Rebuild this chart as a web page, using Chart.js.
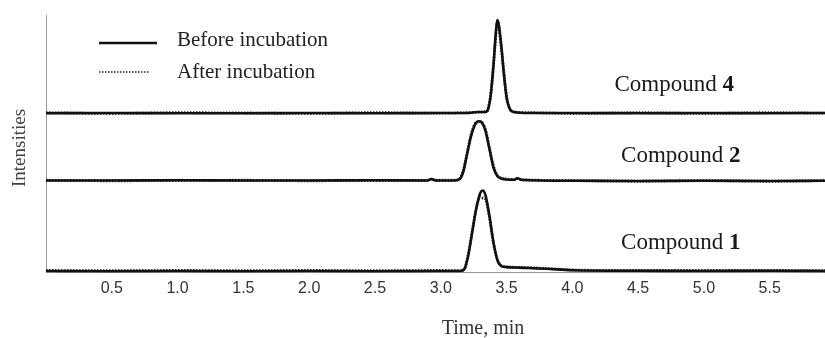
<!DOCTYPE html>
<html lang="en">
<head>
  <meta charset="UTF-8">
  <title>Chromatograms before and after incubation</title>
  <script src="https://cdn.jsdelivr.net/npm/chart.js"></script>
  <style>
    html, body { margin: 0; padding: 0; background: #fff; }
    #chart-container { width: 825px; height: 338px; position: relative; }
  </style>
</head>
<body>
<div id="chart-container">
  <canvas id="chrom"></canvas>
</div>

<script>
  // Data (time in min, intensity in arbitrary units, traces stacked)
  const tickValues = [0.5, 1.0, 1.5, 2.0, 2.5, 3.0, 3.5, 4.0, 4.5, 5.0, 5.5];
  const legendLabels = ['Before incubation', 'After incubation'];
  const compoundNames = ['Compound 4', 'Compound 2', 'Compound 1'];

  const c4Time   = [0, 0.5, 1.0, 1.5, 2.0, 2.5, 3.0, 3.2, 3.28, 3.34, 3.36, 3.38, 3.40, 3.42, 3.43, 3.44, 3.46, 3.48, 3.50, 3.52, 3.54, 3.58, 3.7, 4.0, 4.5, 5.0, 5.5, 5.92];
  const c4Before = [61.9, 62.0, 61.9, 61.9, 62.0, 61.9, 62.0, 62.0, 62.4, 62.4, 63.5, 69, 80, 94, 98, 96.5, 88, 77, 68, 64, 62.6, 62.2, 62.0, 62.0, 61.9, 62.0, 61.9, 62.0];
  const c4After  = [62.1, 61.8, 62.1, 62.0, 61.8, 62.1, 61.9, 62.1, 62.3, 62.5, 63.8, 69.5, 80.5, 93, 97.5, 96, 87.5, 77.5, 68.5, 64.3, 62.8, 62.3, 62.1, 61.8, 62.1, 61.8, 62.1, 61.9];

  const c2Time   = [0, 0.5, 1.0, 1.5, 2.0, 2.5, 2.9, 2.93, 2.96, 3.10, 3.14, 3.17, 3.20, 3.23, 3.26, 3.29, 3.31, 3.34, 3.37, 3.40, 3.43, 3.46, 3.50, 3.56, 3.58, 3.62, 4.0, 4.5, 5.0, 5.5, 5.92];
  const c2Before = [35.8, 35.8, 35.9, 35.8, 35.8, 35.9, 35.8, 36.4, 35.8, 35.8, 36.2, 39, 46, 53, 57.5, 58.8, 58.5, 55, 48, 41, 37.5, 36.6, 36.2, 36.1, 36.7, 36.0, 35.7, 35.6, 35.7, 35.6, 35.7];
  const c2After  = [35.9, 35.7, 35.8, 35.9, 35.7, 35.8, 35.9, 36.3, 35.9, 35.9, 36.4, 39.5, 46.5, 53.5, 57.8, 58.6, 58.2, 55.5, 48.5, 41.5, 37.8, 36.8, 36.4, 36.2, 36.6, 36.1, 35.8, 35.5, 35.8, 35.5, 35.8];

  const c1Time   = [0, 0.5, 1.0, 1.5, 2.0, 2.5, 3.0, 3.15, 3.18, 3.21, 3.24, 3.27, 3.30, 3.32, 3.34, 3.37, 3.40, 3.43, 3.46, 3.50, 3.60, 3.80, 4.0, 4.5, 5.0, 5.5, 5.92];
  const c1Before = [0.7, 0.6, 0.7, 0.6, 0.7, 0.6, 0.7, 0.7, 1.5, 7, 16, 25, 31, 31.9, 30, 22, 12, 5, 2.6, 2.2, 2.0, 1.6, 1.0, 0.8, 0.7, 0.8, 0.7];
  const c1After  = [0.9, 0.8, 0.9, 0.8, 0.9, 0.8, 0.9, 0.8, 1.6, 7.5, 16.5, 25, 29.5, 29, 28.5, 21.5, 11.5, 5.2, 2.8, 2.3, 2.1, 1.7, 1.1, 0.9, 0.9, 0.9, 0.8];

  const toPoints = (xs, ys) => xs.map((x, i) => ({ x: x, y: ys[i] }));

  const beforeStyle = { borderColor: '#111', borderWidth: 2.6 };
  const afterStyle = { borderColor: '#2a2a2a', borderWidth: 2.8, borderDash: [1.5, 1.5] };

  const traces = [
    [compoundNames[0], c4Time, c4Before, c4After],
    [compoundNames[1], c2Time, c2Before, c2After],
    [compoundNames[2], c1Time, c1Before, c1After]
  ];

  const datasets = [];
  traces.forEach(([name, t, before, after]) => {
    datasets.push(Object.assign({ label: name + ' - ' + legendLabels[0], data: toPoints(t, before) }, beforeStyle));
    datasets.push(Object.assign({ label: name + ' - ' + legendLabels[1], data: toPoints(t, after) }, afterStyle));
  });

  const serif = '"Liberation Serif", "Times New Roman", serif';

  // legend, compound names and axis titles drawn on top of the plot
  const annotations = {
    id: 'annotations',
    afterDraw(chart) {
      const ctx = chart.ctx;
      const x = chart.scales.x, y = chart.scales.y;
      ctx.save();

      // legend
      ctx.font = '21px ' + serif;
      ctx.fillStyle = '#222';
      ctx.textBaseline = 'alphabetic';
      const rows = [[43, 46, beforeStyle, 157], [72, 78, afterStyle, 150]];
      rows.forEach(([ly, ty, st, x2], i) => {
        ctx.beginPath();
        ctx.strokeStyle = st.borderColor;
        ctx.lineWidth = st === beforeStyle ? 2.6 : 1.5;
        ctx.setLineDash(st.borderDash || []);
        ctx.moveTo(99, ly);
        ctx.lineTo(x2, ly);
        ctx.stroke();
        ctx.setLineDash([]);
        ctx.fillText(legendLabels[i], 177, ty);
      });

      // compound labels: "Compound" plain, number bold
      const labelAt = [[4.32, 70.4], [4.37, 42.8], [4.37, 9.3]];
      compoundNames.forEach((name, i) => {
        const parts = name.split(' ');
        const px = x.getPixelForValue(labelAt[i][0]);
        const py = y.getPixelForValue(labelAt[i][1]);
        ctx.fillStyle = '#1a1a1a';
        ctx.font = '23px ' + serif;
        const word = parts[0] + ' ';
        ctx.fillText(word, px, py);
        const w = ctx.measureText(word).width;
        ctx.font = 'bold 23px ' + serif;
        ctx.fillText(parts[1], px + w, py);
      });

      // x axis title
      ctx.font = '20px ' + serif;
      ctx.fillStyle = '#333';
      ctx.textAlign = 'center';
      ctx.fillText('Time, min', 483, 334);

      // y axis title
      ctx.translate(25, 148);
      ctx.rotate(-Math.PI / 2);
      ctx.font = '19px ' + serif;
      ctx.fillStyle = '#444';
      ctx.fillText('Intensities', 0, 0);
      ctx.restore();
    }
  };

  const chrom = new Chart(document.getElementById('chrom').getContext('2d'), {
    type: 'line',
    data: { datasets: datasets },
    options: {
      responsive: true,
      maintainAspectRatio: false,
      animation: false,
      layout: { padding: { left: 46, right: 0, top: 15, bottom: 34 } },
      elements: {
        point: { radius: 0 },
        line: { cubicInterpolationMode: 'monotone', fill: false }
      },
      plugins: {
        legend: { display: false },
        tooltip: { enabled: false }
      },
      scales: {
        x: {
          type: 'linear',
          min: 0,
          max: 5.92,
          afterBuildTicks: (scale) => { scale.ticks = tickValues.map(v => ({ value: v })); },
          grid: { display: false, drawTicks: false },
          border: { display: true, color: '#999', width: 1 },
          ticks: {
            padding: 6,
            color: '#333',
            font: { family: '"Liberation Sans", Arial, sans-serif', size: 16 },
            maxRotation: 0,
            callback: (v) => Number(v).toFixed(1)
          }
        },
        y: {
          type: 'linear',
          min: 0,
          max: 100,
          grid: { display: false, drawTicks: false },
          border: { display: true, color: '#999', width: 1 },
          ticks: { display: false }
        }
      }
    },
    plugins: [annotations]
  });
</script>
</body>
</html>
